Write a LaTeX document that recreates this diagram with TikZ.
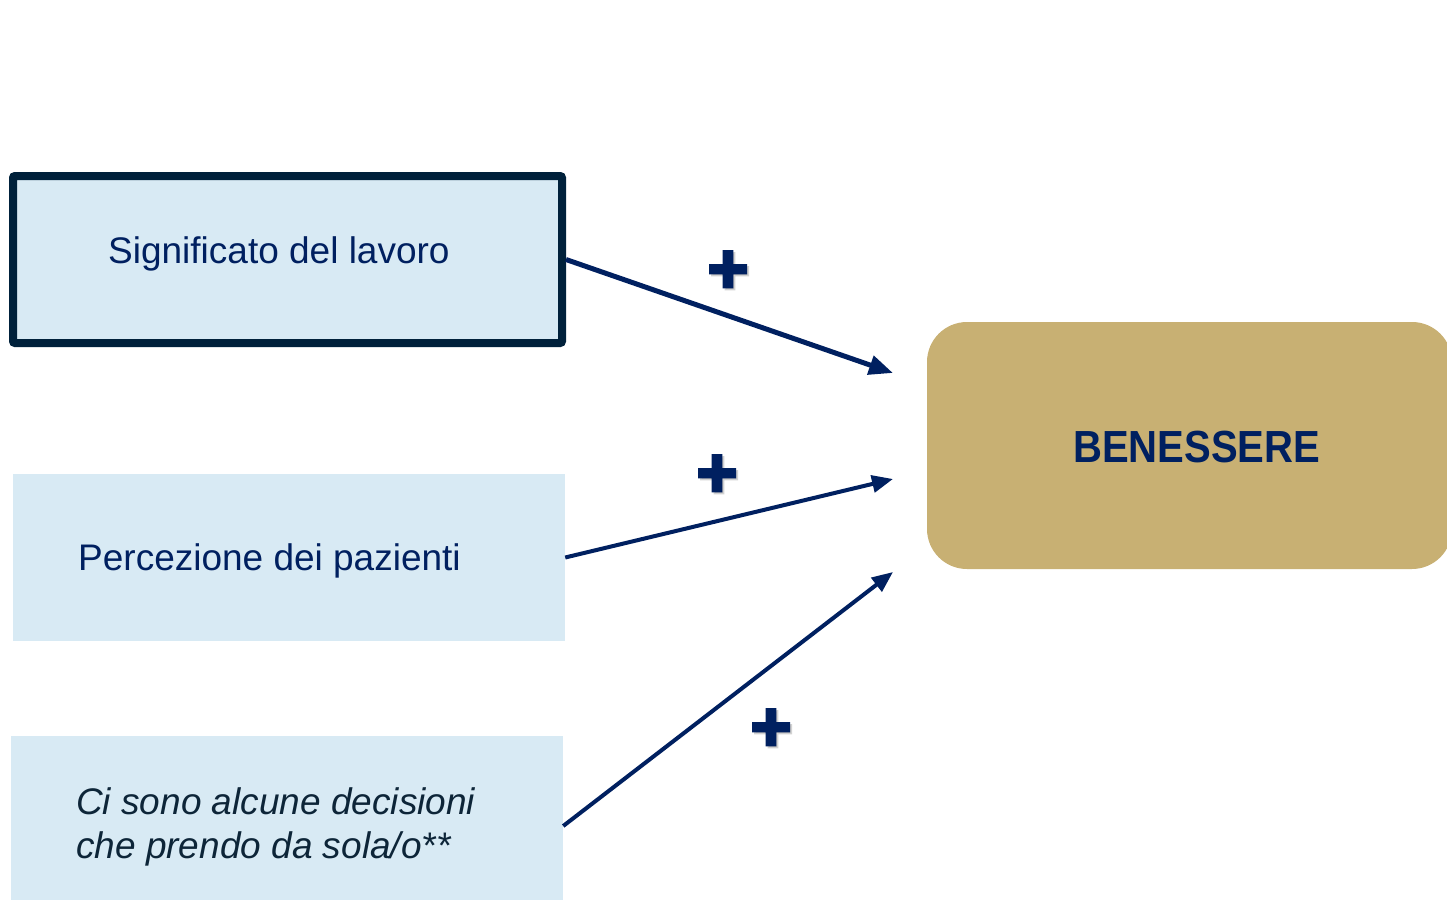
\documentclass[tikz,border=0pt]{standalone}
\usepackage{fontspec}
\setmainfont{Liberation Sans}
\newfontfamily\plusfont{Liberation Sans Bold}[FakeBold=4]
\usetikzlibrary{arrows.meta}
\definecolor{boxfill}{HTML}{D8EAF4}
\definecolor{navy}{HTML}{002060}
\definecolor{darknavy}{HTML}{00213B}
\definecolor{itnavy}{HTML}{0D2538}
\definecolor{gold}{HTML}{C8B073}
\tikzset{
  factor/.style={fill=boxfill, inner sep=0pt},
  label text/.style={text=navy, inner sep=0pt, anchor=base west, font=\fontsize{37}{44}\selectfont},
  plus/.style={text=navy, inner sep=0pt, font=\plusfont\fontsize{70}{70}\selectfont},
  plusshadow/.style={text=black!35, opacity=0.5, inner sep=0pt, font=\plusfont\fontsize{70}{70}\selectfont},
  conn/.style={draw=navy, line width=#1},
}
\begin{document}
\begin{tikzpicture}[x=1pt,y=-1pt]
\useasboundingbox (0,0) rectangle (1447,899);
\clip (0,0) rectangle (1447,899);
% boxes
\node[factor, draw=darknavy, line width=8pt, rounded corners=2pt, minimum width=549pt, minimum height=167pt] (b1) at (287.5,259.5) {};
\node[factor, minimum width=552pt, minimum height=167pt] (b2) at (289,557.5) {};
\node[factor, minimum width=552pt, minimum height=180pt] (b3) at (287,826) {};
\node[fill=gold, inner sep=0pt, rounded corners=40pt, minimum width=525pt, minimum height=247pt] (ben) at (1189.5,445.5) {};
% texts
\node[label text] (t1) at (108,263) {Significato del lavoro};
\node[label text] (t2) at (78,570.5) {Percezione dei pazienti};
\node[label text, text=itnavy, font=\fontsize{37}{44}\itshape\selectfont] (t3a) at (76,814) {Ci sono alcune decisioni};
\node[label text, text=itnavy, font=\fontsize{37}{44}\itshape\selectfont] (t3b) at (76,858) {che prendo da sola/o**};
\node[label text, xscale=0.89, font=\fontsize{45}{50}\bfseries\selectfont] (t4) at (1073,462) {BENESSERE};
% connectors
\coordinate (e1) at (893,373);
\coordinate (e2) at (893,479);
\coordinate (e3) at (893,572);
\draw[conn=5pt, -{Triangle[length=24pt,width=19pt]}] (b1.east) -- (e1);
\draw[conn=4pt, -{Triangle[length=21pt,width=17pt]}] (b2.east) -- (e2);
\draw[conn=4pt, -{Triangle[length=21pt,width=17pt]}] (b3.east) -- (e3);
% plus signs
\node[plusshadow] at (730,274) {+};
\node[plus] (p1) at (728,272) {+};
\node[plusshadow] at (719,478) {+};
\node[plus] (p2) at (717,476) {+};
\node[plusshadow] at (773,732) {+};
\node[plus] (p3) at (771,730) {+};
\end{tikzpicture}
\end{document}
